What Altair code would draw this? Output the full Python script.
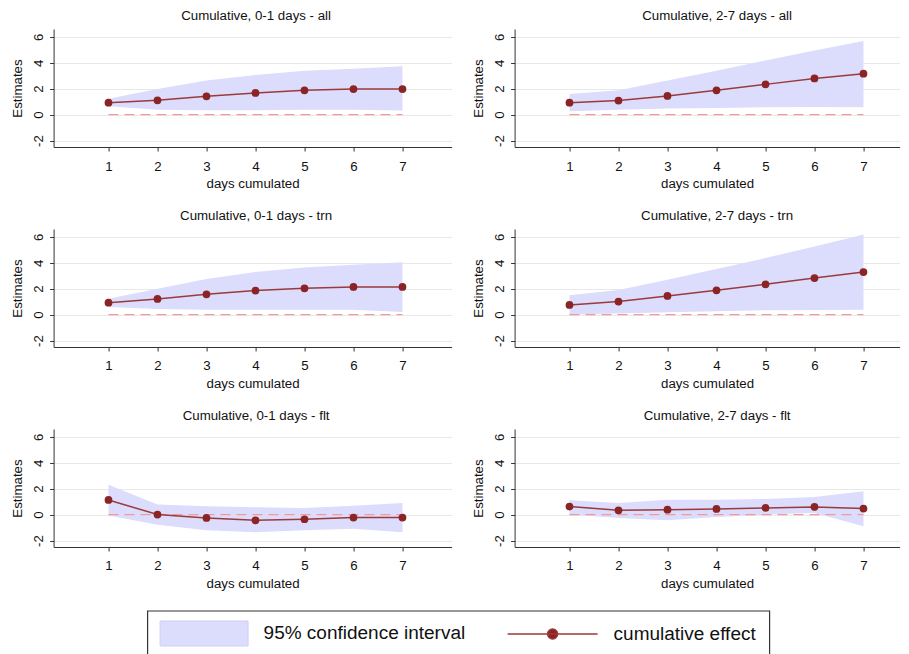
import altair as alt
import pandas as pd

days = [1, 2, 3, 4, 5, 6, 7]

titles = [
    "Cumulative, 0-1 days - all", "Cumulative, 2-7 days - all",
    "Cumulative, 0-1 days - trn", "Cumulative, 2-7 days - trn",
    "Cumulative, 0-1 days - flt", "Cumulative, 2-7 days - flt",
]

effect_01_all = [0.92, 1.10, 1.41, 1.67, 1.87, 1.97, 1.97]
upper_01_all = [1.23, 1.97, 2.62, 3.05, 3.38, 3.54, 3.72]
lower_01_all = [0.64, 0.38, 0.33, 0.33, 0.38, 0.38, 0.31]

effect_27_all = [0.92, 1.08, 1.44, 1.87, 2.33, 2.79, 3.15]
upper_27_all = [1.59, 1.87, 2.62, 3.38, 4.18, 4.95, 5.67]
lower_27_all = [0.26, 0.38, 0.46, 0.51, 0.56, 0.59, 0.56]

effect_01_trn = [0.92, 1.21, 1.56, 1.85, 2.03, 2.13, 2.13]
upper_01_trn = [1.23, 2.00, 2.74, 3.28, 3.64, 3.85, 4.03]
lower_01_trn = [0.59, 0.44, 0.38, 0.38, 0.38, 0.38, 0.20]

effect_27_trn = [0.74, 1.00, 1.44, 1.87, 2.33, 2.82, 3.28]
upper_27_trn = [1.49, 1.90, 2.69, 3.51, 4.36, 5.26, 6.18]
lower_27_trn = [0.00, 0.08, 0.18, 0.26, 0.33, 0.36, 0.38]

effect_01_flt = [1.13, 0.00, -0.26, -0.44, -0.36, -0.23, -0.23]
upper_01_flt = [2.31, 0.77, 0.64, 0.56, 0.51, 0.69, 0.90]
lower_01_flt = [-0.08, -0.79, -1.21, -1.36, -1.21, -1.10, -1.36]

effect_27_flt = [0.62, 0.33, 0.38, 0.44, 0.51, 0.59, 0.46]
upper_27_flt = [1.10, 0.90, 1.15, 1.15, 1.21, 1.36, 1.79]
lower_27_flt = [0.00, -0.26, -0.44, -0.18, 0.00, 0.13, -0.90]

y_ticks = [-2, 0, 2, 4, 6]
CI_LABEL = "95% confidence interval"
EFF_LABEL = "cumulative effect"

FONT = "Liberation Sans"
FS = 13.3
CI_FILL = "#dcdcfd"
LINE_COL = "#9b3a3a"
DOT_COL = "#8b2525"
ZERO_COL = "#f29a9a"

PX_PER_DAY = 49.0
X_MIN = -0.12
PW_LEFT, PW_RIGHT, PH = 398, 385, 118
Y_DOMAIN = [-2.5, 6.6]

legend_ci = alt.Legend(
    orient="none", legendX=106, legendY=560, title=None,
    symbolType="M-1,-0.284H1V0.284H-1Z", symbolSize=7744,
    symbolStrokeColor="#cfcff7", symbolStrokeWidth=1,
    labelFontSize=19, labelFont=FONT, labelColor="#111", labelOffset=15,
    labelLimit=400,
)
legend_eff = alt.Legend(
    orient="none", legendX=453, legendY=559, title=None,
    symbolType="M-1,0H1M-0.111,0A0.111,0.111 0 1,1 0.111,0A0.111,0.111 0 1,1 -0.111,0Z",
    symbolSize=8100, symbolFillColor=DOT_COL, symbolStrokeWidth=1.5,
    labelFontSize=19, labelFont=FONT, labelColor="#111", labelOffset=15,
    labelLimit=400,
)


def panel(title, eff, lo, hi, pw, dx, with_frame=False):
    df = pd.DataFrame({"day": days, "effect": eff, "lower": lo, "upper": hi,
                       "ci": CI_LABEL, "eff": EFF_LABEL})
    zero_df = pd.DataFrame({"x": [min(days)], "x2": [max(days)], "y": [0]})
    x_scale = alt.Scale(domain=[X_MIN, X_MIN + pw / PX_PER_DAY], nice=False, zero=False)
    y_scale = alt.Scale(domain=Y_DOMAIN, nice=False, zero=False)
    x_axis = alt.Axis(values=days, title="days cumulated", grid=False,
                      labelPadding=8, titlePadding=4)
    y_axis = alt.Axis(values=y_ticks, title="Estimates", grid=True, labelAngle=270,
                      labelOverlap=False, labelExpr="'' + datum.value",
                      labelPadding=4.2, titlePadding=6.5)
    base = alt.Chart(df)
    area = base.mark_area(opacity=1).encode(
        x=alt.X("day:Q", scale=x_scale, axis=x_axis),
        y=alt.Y("lower:Q", scale=y_scale, axis=y_axis),
        y2="upper:Q",
        fill=alt.Fill("ci:N", scale=alt.Scale(domain=[CI_LABEL], range=[CI_FILL]),
                      legend=legend_ci),
    )
    zero = alt.Chart(zero_df).mark_rule(color=ZERO_COL, strokeWidth=1.2,
                                        strokeDash=[10, 6]).encode(
        x=alt.X("x:Q", scale=x_scale, axis=x_axis),
        x2="x2:Q",
        y=alt.Y("y:Q", scale=y_scale, axis=y_axis),
    )
    line = base.mark_line(strokeWidth=1.5).encode(
        x=alt.X("day:Q", scale=x_scale, axis=x_axis),
        y=alt.Y("effect:Q", scale=y_scale, axis=y_axis),
        stroke=alt.Stroke("eff:N", scale=alt.Scale(domain=[EFF_LABEL], range=[LINE_COL]),
                          legend=legend_eff),
    )
    pts = base.mark_circle(size=60, opacity=1, color=DOT_COL).encode(
        x=alt.X("day:Q", scale=x_scale, axis=x_axis),
        y=alt.Y("effect:Q", scale=y_scale, axis=y_axis),
    )
    layers = [area, zero, line, pts]
    if with_frame:
        # frame drawn around the legend, below the bottom-left panel
        frame = alt.Chart(pd.DataFrame({"a": [0]})).mark_rect(
            fill="transparent", stroke="#333", strokeWidth=1.2
        ).encode(x=alt.value(94), x2=alt.value(716),
                 y=alt.value(PH + 64), y2=alt.value(PH + 108))
        layers.append(frame)
    return alt.layer(*layers).properties(
        width=pw, height=PH,
        title=alt.TitleParams(title, fontSize=FS, font=FONT, fontWeight="normal",
                              color="#111", anchor="middle", offset=6.7, dx=dx),
    )


panels = [
    panel(titles[0], effect_01_all, lower_01_all, upper_01_all, PW_LEFT, 3.5),
    panel(titles[1], effect_27_all, lower_27_all, upper_27_all, PW_RIGHT, 10),
    panel(titles[2], effect_01_trn, lower_01_trn, upper_01_trn, PW_LEFT, 3.5),
    panel(titles[3], effect_27_trn, lower_27_trn, upper_27_trn, PW_RIGHT, 10),
    panel(titles[4], effect_01_flt, lower_01_flt, upper_01_flt, PW_LEFT, 3.5, True),
    panel(titles[5], effect_27_flt, lower_27_flt, upper_27_flt, PW_RIGHT, 10),
]

chart = alt.concat(*panels, columns=2, bounds="flush",
                   spacing={"row": 82, "column": 63}).properties(
    padding={"left": 1.6, "top": 0, "right": 0, "bottom": 0}
).configure_view(stroke="transparent").configure_axis(
    labelFont=FONT, titleFont=FONT, labelFontSize=FS, titleFontSize=FS,
    labelColor="#111", titleColor="#111", titleFontWeight="normal",
    domainColor="#333", tickColor="#333", tickSize=4, gridColor="#e8e8e8",
).configure_axisY(labelOverlap=False)

chart.save("out.html", embed_options={"renderer": "svg", "actions": False})
